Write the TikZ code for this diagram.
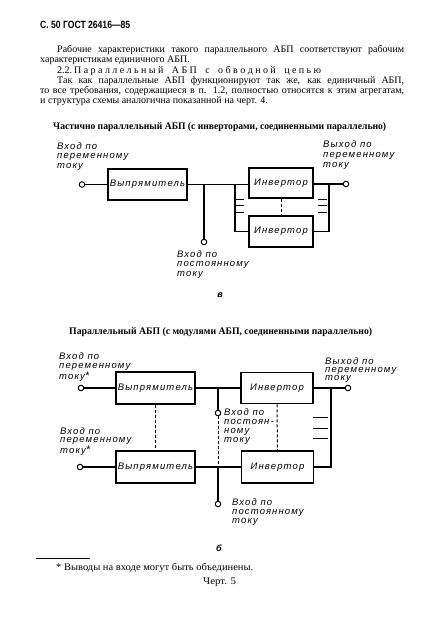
\documentclass[tikz,border=0pt]{standalone}
\usepackage{fontspec}
\usepackage{graphicx}
\setmainfont{Liberation Serif}
\newfontfamily\lblfont{Liberation Sans}[LetterSpace=12]
\newfontfamily\hdfont{Liberation Sans}
\newlength\fw
\newcommand\fitto[2]{\settowidth\fw{#2}\pgfmathsetmacro\fr{#1/\fw}\scalebox{\fr}[1]{#2}}
\newcommand\myast{{\fontsize{11}{9}\selectfont *}}
\begin{document}
\begin{tikzpicture}[x=1pt,y=-1pt,
  txt/.style={anchor=base west, inner sep=0, font=\fontsize{10}{12}\selectfont},
  ttl/.style={anchor=base west, inner sep=0, font=\bfseries\fontsize{10}{12}\selectfont},
  lbl/.style={anchor=north west, inner sep=0, align=left, font=\lblfont\itshape\fontsize{9.5}{#1}\selectfont},
  lbl/.default=9.5,
  blk/.style={draw, line width=1.9pt, inner sep=0, font=\lblfont\itshape\fontsize{9.5}{9.5}\selectfont},
  term/.style={circle, draw, line width=1pt, fill=white, inner sep=0, minimum size=5.5pt},
  wire/.style={line width=1.5pt},
  dsh/.style={line width=1pt, dash pattern=on 3pt off 2pt}]
\fill[white] (0,0) rectangle (427,633);
\useasboundingbox (0,0) rectangle (427,633);

% header and text
\node[txt] (hdr) at (40,28) {\fitto{90}{\hdfont\bfseries\fontsize{10.5}{12}\selectfont С. 50 ГОСТ 26416—85}};
\node[txt] (p1) at (57,52.7) {\makebox[347pt][s]{Рабочие характеристики такого параллельного АБП соответствуют рабочим}};
\node[txt] (p2) at (40,62.7) {характеристикам единичного АБП.};
\node[txt] (p3a) at (57,73) {2.2.};
\node[txt] (p3b) at (74,73) {\makebox[247pt][s]{П а р а л л е л ь н ы й\hspace{6pt} А Б П\hspace{6pt} с\hspace{6pt} о б в о д н о й\hspace{6pt} ц е п ь ю}};
\node[txt] (p4) at (57,83) {\makebox[347pt][s]{Так как параллельные АБП функционируют так же, как единичный АБП,}};
\node[txt] (p5) at (40,93) {\makebox[364pt][s]{то все требования, содержащиеся в п. 1.2, полностью относятся к этим агрегатам,}};
\node[txt] (p6) at (40,103) {и структура схемы аналогична показанной на черт. 4.};

\node[ttl] (t1) at (53,129) {\fitto{333}{Частично параллельный АБП (с инверторами, соединенными параллельно)}};

% diagram a
\node[term] (inA) at (82,184.5) {};
\node[blk, minimum width=79pt, minimum height=31pt] (rectA) at (147.5,184.5) {Выпрямитель};
\node[blk, minimum width=64pt, minimum height=30pt] (invA1) at (281,183) {Инвертор};
\node[blk, minimum width=64pt, minimum height=31pt] (invA2) at (281,231.5) {Инвертор};
\node[term] (dcA) at (204,242) {};
\node[term] (outA) at (346,184) {};
\coordinate (jA) at (204,184.5);
\coordinate (lbA) at (235,184.5);
\coordinate (rbA) at (329,184);
\draw[wire] (inA) -- (rectA);
\draw[wire] (rectA.east) -- (rectA.east -| invA1.west);
\draw[wire] (jA) -- (dcA);
\draw[wire] (lbA) |- (invA2.west);
\draw[wire] (invA1.east |- outA) -- (outA);
\draw[wire] (rbA) |- (invA2.east);
\draw[dsh] (invA1.south) -- (invA2.north);
\foreach \yy [count=\i] in {199,205.5,212}{
  \coordinate (dl\i) at (236,\yy); \coordinate (dr\i) at (318,\yy);
  \draw[line width=1pt] (dl\i) -- ++(8,0);
  \draw[line width=1pt] (dr\i) -- ++(9,0);
}
\node[lbl] (laIn) at (57,142.4) {Вход по\\переменному\\току};
\node[lbl=10] (laOut) at (323,140.5) {Выход по\\переменному\\току};
\node[lbl] (laDc) at (177,250.4) {Вход по\\постоянному\\току};
\node[anchor=base, inner sep=0, font=\hdfont\bfseries\itshape\fontsize{9}{9}\selectfont] (capA) at (220,297) {в};

% diagram b
\node[ttl] (t2) at (69,334) {\fitto{303}{Параллельный АБП (с модулями АБП, соединенными параллельно)}};
\node[term] (inB1) at (81,388) {};
\node[blk, minimum width=79pt, minimum height=32pt] (rectB1) at (155.5,388) {Выпрямитель};
\node[blk, minimum width=72pt, minimum height=31pt] (invB1) at (277,388) {Инвертор};
\node[term] (outB) at (348,388) {};
\node[term] (dcB1) at (218,413) {};
\node[term] (inB2) at (80,467) {};
\node[blk, minimum width=79pt, minimum height=32pt] (rectB2) at (155.5,467) {Выпрямитель};
\node[blk, minimum width=72pt, minimum height=32pt] (invB2) at (277.5,467) {Инвертор};
\node[term] (dcB2) at (218,504) {};
\coordinate (jB1) at (218,388);
\coordinate (jB2) at (218,467);
\coordinate (rbB) at (331,388);
\draw[wire] (inB1) -- (rectB1);
\draw[wire] (rectB1) -- (invB1);
\draw[wire] (invB1) -- (outB);
\draw[wire] (jB1) -- (dcB1);
\draw[dsh] (dcB1) -- (jB2);
\draw[wire] (jB2) -- (dcB2);
\draw[wire] (inB2) -- (rectB2);
\draw[wire] (rectB2) -- (invB2);
\draw[wire] (rbB) |- (invB2.east);
\draw[dsh] (rectB1.south) -- (rectB2.north);
\draw[dsh] (invB1.south) -- (invB2.north);
\foreach \yy [count=\i] in {417,428,438}{
  \coordinate (bd\i) at (313,\yy);
  \draw[line width=1pt] (bd\i) -- ++(15,0);
}
\node[lbl=9] (lbIn1) at (59,352.4) {Вход по\\переменному\\току\myast};
\node[lbl=8] (lbOut) at (325,357.4) {Выход по\\переменному\\току};
\node[lbl=9] (lbDc1) at (224,408.4) {Вход по\\постоян-\\ному\\току};
\node[lbl=8.5] (lbIn2) at (60,427.4) {Вход по\\переменному\\току\myast};
\node[lbl=9] (lbDc2) at (232,498.4) {Вход по\\постоянному\\току};
\node[anchor=base, inner sep=0, font=\hdfont\bfseries\itshape\fontsize{9}{9}\selectfont] (capB) at (219,551) {б};

% footnote
\coordinate (fr1) at (36,558);
\coordinate (fr2) at (90,558);
\draw[line width=0.6pt] (fr1) -- (fr2);
\node[txt] (fn) at (56,570) {\fitto{197}{* Выводы на входе могут быть объединены.}};
\node[txt] (ch) at (203,584) {\fitto{33}{Черт. 5}};
\end{tikzpicture}
\end{document}
